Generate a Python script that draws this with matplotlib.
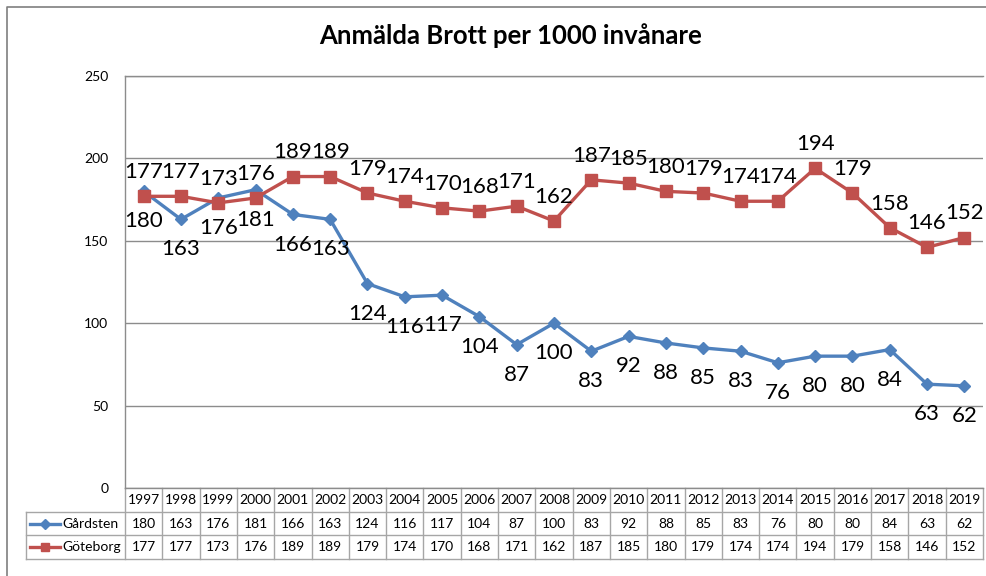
import matplotlib
matplotlib.use("Agg")
import matplotlib.pyplot as plt
from matplotlib.lines import Line2D
import matplotlib.transforms as mtransforms

plt.rcParams['font.family'] = ['Lato', 'DejaVu Sans']

years = [str(y) for y in range(1997, 2020)]
gardsten = [180, 163, 176, 181, 166, 163, 124, 116, 117, 104, 87, 100, 83, 92, 88, 85, 83, 76, 80, 80, 84, 63, 62]
goteborg = [177, 177, 173, 176, 189, 189, 179, 174, 170, 168, 171, 162, 187, 185, 180, 179, 174, 174, 194, 179, 158, 146, 152]
series_names = ["Gårdsten", "Göteborg"]

blue = "#4F81BD"
red = "#C0504D"
grid_c = "#8C8C8C"
tab_c = "#A6A6A6"

W, H = 986, 576
fig = plt.figure(figsize=(W / 100, H / 100), dpi=100)

# plot area in pixels
px_l, px_r, px_t, px_b = 125, 983, 76, 488
ax = fig.add_axes([px_l / W, 1 - px_b / H, (px_r - px_l) / W, (px_b - px_t) / H])

x = list(range(len(years)))
ax.plot(x, gardsten, color=blue, lw=2.4, marker="D", ms=6, mfc=blue, mec=blue, zorder=3)
ax.plot(x, goteborg, color=red, lw=2.4, marker="s", ms=8, mfc=red, mec=red, zorder=3)

for i in x:
    ax.annotate(str(goteborg[i]), (i, goteborg[i]), xytext=(0, 13), textcoords="offset points",
                ha="center", va="baseline", fontsize=16, color="black")
    ax.annotate(str(gardsten[i]), (i, gardsten[i]), xytext=(0, -26), textcoords="offset points",
                ha="center", va="baseline", fontsize=16, color="black")

ax.set_xlim(-0.5, len(years) - 0.5)
ax.set_ylim(0, 250)
ax.set_yticks(range(0, 251, 50))
ax.set_xticks([])
ax.tick_params(axis="y", length=0, pad=12, labelsize=10)
ax.grid(axis="y", color=grid_c, lw=1)
ax.set_axisbelow(True)
ax.spines["right"].set_visible(False)
for s in ["left", "top", "bottom"]:
    ax.spines[s].set_color(grid_c)
    ax.spines[s].set_linewidth(1)

# data table below the plot
col_w = (px_r - px_l) / len(years)
ph = px_b - px_t
trans = mtransforms.blended_transform_factory(ax.transData, ax.transAxes)
rows_px = [0, 24, 47, 71]
rows = [-r / ph for r in rows_px]
x_left = -0.5 - (px_l - 26) / col_w

def line(xs, ys):
    ax.add_line(Line2D(xs, ys, transform=trans, color=tab_c, lw=1, clip_on=False))

for i in range(len(years) + 1):
    line([i - 0.5, i - 0.5], [rows[0], rows[3]])
line([x_left, x_left], [rows[1], rows[3]])
for r in rows[1:]:
    line([x_left, len(years) - 0.5], [r, r])

for i, yr in enumerate(years):
    ax.text(i, (rows[0] + rows[1]) / 2, yr, transform=trans, ha="center", va="center", fontsize=10)
    ax.text(i, (rows[1] + rows[2]) / 2, str(gardsten[i]), transform=trans, ha="center", va="center", fontsize=10)
    ax.text(i, (rows[2] + rows[3]) / 2, str(goteborg[i]), transform=trans, ha="center", va="center", fontsize=10)

def px2x(p):
    return -0.5 + (p - px_l) / col_w

for k, (name, c, m, ms) in enumerate([(series_names[0], blue, "D", 5), (series_names[1], red, "s", 6)]):
    yc = (rows[k + 1] + rows[k + 2]) / 2
    ax.add_line(Line2D([px2x(30), px2x(60)], [yc, yc], transform=trans, color=c, lw=2.4, clip_on=False))
    ax.add_line(Line2D([px2x(45)], [yc], transform=trans, color=c, marker=m, ms=ms, clip_on=False))
    ax.text(px2x(62), yc, name, transform=trans, ha="left", va="center", fontsize=10)

# title
fig.text(511 / W, 1 - 36 / H, "Anmälda Brott per 1000 invånare", ha="center", va="center",
         fontsize=18.5, fontweight="bold")

# outer chart border (left and top visible)
fig.add_artist(Line2D([7 / W, 7 / W, 1], [0, 1 - 7 / H, 1 - 7 / H], transform=fig.transFigure,
                      color="#7F7F7F", lw=1.2))

fig.savefig("out.png", dpi=100)
